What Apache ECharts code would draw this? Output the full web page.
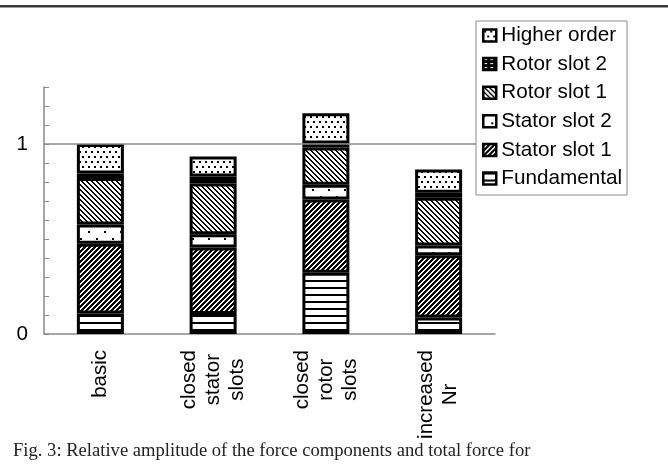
<!DOCTYPE html>
<html>
<head>
<meta charset="utf-8">
<script src="https://cdn.jsdelivr.net/npm/echarts@6/dist/echarts.min.js"></script>
<style>
  html, body { margin: 0; padding: 0; background: #fff; }
  #chart { width: 668px; height: 471px; }
</style>
</head>
<body>
<div id="chart"></div>
<script>
// Configurations compared
const categories = ['basic', 'closed\nstator\nslots', 'closed\nrotor\nslots', 'increased\nNr'];

// Relative amplitude of each force component (stacked)
const fundamental = [0.108, 0.105, 0.322, 0.087];
const statorSlot1 = [0.367, 0.350, 0.386, 0.328];
const statorSlot2 = [0.101, 0.070, 0.078, 0.051];
const rotorSlot1  = [0.245, 0.267, 0.196, 0.251];
const rotorSlot2  = [0.024, 0.037, 0.021, 0.027];
const higherOrder = [0.155, 0.105, 0.159, 0.122];

const seriesNames = ['Fundamental', 'Stator slot 1', 'Stator slot 2', 'Rotor slot 1', 'Rotor slot 2', 'Higher order'];
const yTickLabels = ['0', '1'];

const FONT = 'Liberation Sans, Arial, sans-serif';

// Monochrome fill patterns built on small canvas tiles
function tile(w, h, bg, draw) {
  const c = document.createElement('canvas');
  c.width = w; c.height = h;
  const ctx = c.getContext('2d');
  ctx.fillStyle = bg;
  ctx.fillRect(0, 0, w, h);
  ctx.fillStyle = bg === '#000' ? '#fff' : '#000';
  draw(ctx, w, h);
  return { image: c, repeat: 'repeat' };
}
function hatch(s, t, dir) {
  return tile(s, s, '#fff', function (ctx) {
    for (let x = 0; x < s; x++) {
      for (let y = 0; y < s; y++) {
        const k = dir > 0 ? (x + y) : (x - y);
        if (((k % s) + s) % s < t) ctx.fillRect(x, y, 1, 1);
      }
    }
  });
}
const patterns = {
  'Fundamental': tile(8, 7, '#fff', function (ctx, w) { ctx.fillRect(0, 0, w, 2); }),
  'Stator slot 1': hatch(5, 3, 1),
  'Stator slot 2': tile(16, 14, '#fff', function (ctx) { ctx.fillRect(0, 0, 2, 2); ctx.fillRect(8, 7, 2, 2); }),
  'Rotor slot 1': hatch(5, 2, -1),
  'Rotor slot 2': tile(6, 4, '#000', function (ctx) { ctx.fillRect(1, 1, 3, 1); }),
  'Higher order': tile(12, 10, '#fff', function (ctx) {
    ctx.fillRect(1, 1, 2, 2); ctx.fillRect(7, 1, 2, 2);
    ctx.fillRect(4, 6, 2, 2); ctx.fillRect(10, 6, 2, 2);
  })
};

const seriesData = [fundamental, statorSlot1, statorSlot2, rotorSlot1, rotorSlot2, higherOrder];

const series = seriesNames.map(function (name, i) {
  const s = {
    name: name,
    type: 'bar',
    stack: 'total',
    barWidth: 47,
    data: seriesData[i],
    itemStyle: { color: patterns[name], borderColor: '#000', borderWidth: 3 },
    emphasis: { disabled: true }
  };
  if (i === 0) {
    s.markLine = {
      silent: true,
      symbol: ['none', 'none'],
      label: { show: false },
      lineStyle: { color: '#8a8a8a', type: 'solid', width: 1.5 },
      data: [{ yAxis: 1 }]
    };
  }
  return s;
});

const chart = echarts.init(document.getElementById('chart'), null, { renderer: 'canvas' });
chart.setOption({
  animation: false,
  backgroundColor: '#fff',
  grid: { left: 44, right: 173, top: 87, bottom: 137, containLabel: false },
  legend: {
    orient: 'vertical',
    left: 476,
    top: 21,
    z: 10,
    data: seriesNames.slice().reverse(),
    icon: 'rect',
    itemWidth: 13,
    itemHeight: 12,
    itemGap: 7.6,
    padding: [4, 5, 6, 6],
    backgroundColor: '#fff',
    borderColor: '#8a8a8a',
    borderWidth: 1,
    selectedMode: false,
    itemStyle: { borderWidth: 2.5, borderColor: '#000' },
    textStyle: { fontFamily: FONT, fontSize: 20.7, color: '#000' }
  },
  xAxis: {
    type: 'category',
    data: categories,
    axisLine: { lineStyle: { color: '#8a8a8a', width: 1.5 } },
    axisTick: { show: false },
    axisLabel: {
      rotate: 90,
      margin: 16,
      interval: 0,
      color: '#000',
      fontFamily: FONT,
      fontSize: 20.5,
      lineHeight: 24,
      formatter: function (v) {
        return v.split('\n').map(function (s) { return '{c|' + s + '}'; }).join('\n');
      },
      rich: { c: { align: 'center', fontFamily: FONT, fontSize: 20.5, lineHeight: 24, color: '#000' } }
    }
  },
  yAxis: {
    type: 'value',
    min: 0,
    max: 1.3,
    interval: 0.1,
    axisLine: { show: true, lineStyle: { color: '#8a8a8a', width: 1.5 } },
    axisTick: { show: true, inside: true, length: 5, lineStyle: { color: '#8a8a8a', width: 1 } },
    splitLine: { show: false },
    axisLabel: {
      margin: 16,
      color: '#000',
      fontFamily: FONT,
      fontSize: 20.7,
      formatter: function (v) {
        for (let i = 0; i < yTickLabels.length; i++) {
          if (Math.abs(v - Number(yTickLabels[i])) < 1e-6) return yTickLabels[i];
        }
        return '';
      }
    }
  },
  graphic: [
    { type: 'rect', left: 0, top: 5, shape: { width: 668, height: 2.5 }, style: { fill: '#3a3a3a' }, silent: true },
    {
      type: 'text', left: 13, top: 442, silent: true,
      style: {
        text: 'Fig. 3: Relative amplitude of the force components and total force for',
        font: '18.6px "Liberation Serif", "Times New Roman", serif',
        fill: '#222'
      }
    }
  ],
  series: series
});
</script>
</body>
</html>
